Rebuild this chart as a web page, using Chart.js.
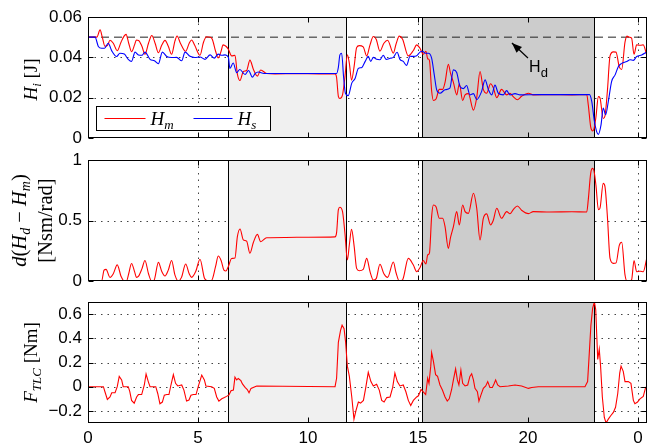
<!DOCTYPE html>
<html><head><meta charset="utf-8">
<script src="https://cdn.jsdelivr.net/npm/chart.js@4/dist/chart.umd.min.js"></script>
<style>
html,body{margin:0;padding:0;background:#fff;}
#wrap{position:relative;width:649px;height:446px;overflow:hidden;}
canvas{position:absolute;left:0;top:0;}
</style></head><body>
<div id="wrap">
<canvas id="c1" width="649" height="446"></canvas>
<canvas id="c2" width="649" height="446"></canvas>
<canvas id="c3" width="649" height="446"></canvas>
</div>
<script>
// ---------- data ----------
const xTickValues = [0, 5, 10, 15, 20, 25];
const xTickLabels = ['0', '5', '10', '15', '20', '0'];
const xMax = 25.41;

const hYTicks = [0, 0.02, 0.04, 0.06];
const hYLabels = ['0', '0.02', '0.04', '0.06'];
const midYTicks = [0, 0.5, 1];
const midYLabels = ['0', '0.5', '1'];
const fYTicks = [-0.2, 0, 0.2, 0.4, 0.6];
const fYLabels = ['\u22120.2', '0', '0.2', '0.4', '0.6'];

const phaseBounds = [6.36, 11.73, 15.18, 23.0];

const hdT = [0, 25.41];
const hdV = [0.05, 0.05];

const hmT = [0,0.4,0.55,0.65,0.77,0.88,1.0,1.15,1.33,1.5,1.64,1.73,1.85,1.98,2.12,2.2,2.3,2.45,2.59,2.75,2.9,3.05,3.2,3.35,3.5,3.65,3.8,3.95,4.05,4.2,4.44,4.6,4.71,4.85,5.09,5.25,5.39,5.55,5.65,5.8,5.92,6.05,6.14,6.27,6.38,6.53,6.68,6.79,6.91,7.06,7.21,7.36,7.52,7.7,7.85,8.12,8.5,9.5,10.5,11.23,
11.3,11.38,11.45,11.57,11.68,11.79,11.88,11.98,12.1,12.21,12.33,12.51,12.67,12.82,12.97,13.1,13.27,13.45,13.62,13.88,14.0,14.15,14.3,14.56,14.79,14.94,15.09,15.24,15.36,15.44,15.52,15.62,15.7,15.82,15.97,16.12,16.23,16.38,16.48,16.61,16.76,16.88,17.03,17.14,17.29,17.52,17.67,17.82,17.97,18.12,18.3,18.42,18.58,18.8,19.03,19.18,19.33,19.52,19.71,20.02,20.24,21.0,22.0,22.67,
22.74,22.85,22.94,23.0,23.09,23.2,23.27,23.42,23.5,23.61,23.73,23.88,24.0,24.15,24.26,24.41,24.5,24.6,24.71,24.82,24.94,25.05,25.12,25.24,25.4];
const hmV = [0.05,0.05,0.0536,0.050,0.0455,0.0458,0.0485,0.047,0.0433,0.0475,0.0505,0.0514,0.047,0.0428,0.0463,0.0486,0.0484,0.0455,0.0415,0.047,0.0508,0.047,0.0423,0.046,0.0484,0.0455,0.0415,0.048,0.0506,0.047,0.043,0.047,0.0486,0.046,0.041,0.0475,0.0502,0.050,0.049,0.043,0.0397,0.043,0.0462,0.0455,0.044,0.0407,0.041,0.0317,0.0285,0.033,0.0335,0.0386,0.034,0.0307,0.0337,0.032,0.0318,0.0319,0.0318,0.0318,
0.0300,0.0207,0.0196,0.0214,0.0303,0.0413,0.037,0.0287,0.0358,0.0448,0.0458,0.0452,0.0407,0.0462,0.0503,0.049,0.0431,0.047,0.0485,0.0421,0.0465,0.0505,0.049,0.0407,0.0434,0.0462,0.0445,0.0415,0.043,0.0393,0.0385,0.0234,0.0186,0.0193,0.0241,0.0241,0.0276,0.0365,0.032,0.0276,0.0214,0.0269,0.0186,0.0214,0.022,0.0138,0.020,0.033,0.0241,0.0222,0.0269,0.025,0.020,0.0241,0.0214,0.0222,0.0205,0.019,0.0207,0.0222,0.0214,0.0215,0.0214,0.0215,
0.0165,0.0055,0.0035,0.0045,0.0105,0.0205,0.020,0.0097,0.011,0.0234,0.0407,0.0427,0.0426,0.0353,0.034,0.0475,0.0505,0.050,0.0495,0.0415,0.0462,0.046,0.046,0.0462,0.041];

const hsT = [0,0.32,0.47,0.62,0.75,0.92,1.08,1.3,1.45,1.65,1.83,1.98,2.14,2.29,2.45,2.59,2.82,3.02,3.2,3.38,3.58,3.8,4.03,4.26,4.41,4.64,4.86,5.09,5.32,5.55,5.74,5.92,6.08,6.23,6.38,6.45,6.6,6.76,6.9,7.14,7.3,7.47,7.6,7.74,8.0,9.0,10.0,11.3,
11.38,11.45,11.53,11.62,11.7,11.83,11.99,12.14,12.29,12.45,12.6,12.74,12.85,12.97,13.12,13.27,13.42,13.55,13.73,13.88,14.05,14.18,14.33,14.48,14.64,14.79,14.94,15.09,15.2,15.35,15.47,15.62,15.74,15.85,16.0,16.23,16.45,16.61,16.76,16.91,17.06,17.21,17.36,17.52,17.67,17.89,18.05,18.2,18.35,18.5,18.65,18.88,19.03,19.18,19.41,19.64,20.5,21.5,22.8,
22.9,23.02,23.12,23.2,23.32,23.42,23.53,23.65,23.8,23.96,24.11,24.26,24.49,24.64,24.79,24.94,25.17,25.4];
const hsV = [0.05,0.05,0.0454,0.0445,0.0445,0.047,0.0432,0.0404,0.042,0.0416,0.039,0.038,0.0426,0.0412,0.041,0.0426,0.039,0.0383,0.0368,0.0426,0.0404,0.0399,0.0400,0.0383,0.0426,0.0405,0.0399,0.0402,0.039,0.0412,0.0396,0.0416,0.041,0.0412,0.040,0.0345,0.0372,0.0324,0.034,0.0315,0.0335,0.0302,0.032,0.0327,0.032,0.032,0.032,0.032,
0.035,0.0412,0.042,0.030,0.0222,0.021,0.0272,0.0295,0.0345,0.035,0.038,0.0405,0.038,0.040,0.039,0.0388,0.041,0.039,0.0395,0.040,0.0425,0.039,0.038,0.036,0.0405,0.0405,0.0408,0.0426,0.043,0.042,0.042,0.0396,0.0313,0.0239,0.0222,0.0239,0.0247,0.0338,0.0325,0.0255,0.0245,0.026,0.0214,0.022,0.019,0.023,0.0288,0.024,0.0214,0.0262,0.0222,0.0214,0.0235,0.0214,0.022,0.0214,0.0215,0.0215,0.0215,
0.018,0.0082,0.0032,0.0018,0.0065,0.0148,0.0115,0.018,0.028,0.0313,0.0355,0.037,0.0379,0.0388,0.0385,0.0404,0.0412,0.0426];

const midT = [0,0.62,0.73,0.82,1.0,1.15,1.33,1.5,1.64,1.75,1.85,1.98,2.12,2.2,2.3,2.45,2.59,2.75,2.89,3.0,3.2,3.35,3.5,3.65,3.8,3.95,4.1,4.25,4.44,4.6,4.71,4.9,5.09,5.3,5.47,5.62,5.8,5.92,6.05,6.18,6.27,6.38,6.53,6.68,6.79,6.91,7.06,7.21,7.36,7.52,7.7,7.85,8.12,9.0,10.0,11.23,
11.3,11.38,11.45,11.57,11.68,11.79,11.88,11.98,12.1,12.21,12.33,12.51,12.67,12.82,12.97,13.1,13.27,13.45,13.62,13.88,14.0,14.15,14.3,14.56,14.79,14.94,15.09,15.24,15.36,15.44,15.52,15.62,15.7,15.82,15.97,16.12,16.23,16.38,16.48,16.61,16.76,16.88,17.03,17.14,17.29,17.52,17.67,17.82,17.97,18.12,18.3,18.42,18.58,18.8,19.03,19.18,19.33,19.52,19.71,20.02,20.24,21.0,22.0,22.67,
22.74,22.85,22.94,23.0,23.09,23.2,23.27,23.42,23.5,23.61,23.73,23.88,24.0,24.15,24.26,24.41,24.5,24.6,24.71,24.82,24.94,25.05,25.12,25.24,25.39];
const midV = [0,0,0.09,0.096,0.03,0.06,0.133,0.04,0.0,0.0,0.06,0.145,0.075,0.03,0.04,0.1,0.17,0.06,0.0,0.005,0.154,0.08,0.041,0.09,0.17,0.05,0.0,0.03,0.14,0.06,0.03,0.08,0.18,0.02,0.0,0.005,0.12,0.206,0.17,0.09,0.083,0.12,0.186,0.19,0.366,0.43,0.34,0.33,0.229,0.32,0.385,0.325,0.358,0.36,0.362,0.365,
0.40,0.587,0.609,0.573,0.394,0.174,0.30,0.427,0.284,0.104,0.085,0.096,0.187,0.077,0.008,0.02,0.138,0.06,0.03,0.157,0.07,0.0,0.01,0.187,0.132,0.077,0.11,0.17,0.14,0.215,0.23,0.532,0.628,0.614,0.518,0.518,0.449,0.27,0.36,0.449,0.573,0.463,0.628,0.573,0.559,0.725,0.601,0.339,0.518,0.555,0.463,0.50,0.601,0.518,0.573,0.556,0.59,0.62,0.585,0.557,0.573,0.570,0.572,0.570,
0.67,0.89,0.931,0.91,0.79,0.59,0.60,0.807,0.78,0.532,0.187,0.146,0.148,0.295,0.32,0.05,0.0,0.0,0.01,0.17,0.077,0.08,0.08,0.077,0.18];

const fT = [0,0.7,0.77,0.88,1.0,1.08,1.23,1.33,1.42,1.53,1.6,1.83,1.9,1.98,2.1,2.21,2.29,2.44,2.56,2.64,2.74,2.82,3.08,3.17,3.27,3.38,3.47,3.58,3.68,3.77,3.88,3.98,4.08,4.26,4.36,4.48,4.59,4.68,4.79,4.91,5.02,5.17,5.29,5.36,5.62,5.74,5.85,5.95,6.08,6.2,6.3,6.41,6.5,6.61,6.68,6.76,6.83,6.95,7.02,7.14,7.24,7.32,7.41,7.59,7.67,11.23,
11.3,11.38,11.48,11.55,11.64,11.71,11.79,11.88,11.99,12.09,12.18,12.29,12.39,12.52,12.62,12.74,12.86,12.97,13.12,13.24,13.35,13.46,13.58,13.73,13.85,13.95,14.06,14.18,14.33,14.45,14.56,14.67,14.79,14.94,15.02,15.14,15.24,15.35,15.44,15.5,15.58,15.62,15.7,15.8,15.89,16.0,16.11,16.23,16.33,16.42,16.53,16.61,16.71,16.79,16.86,16.95,17.03,17.14,17.26,17.36,17.44,17.52,17.59,17.7,17.77,17.86,17.97,18.08,18.17,18.27,18.38,18.47,18.53,18.62,18.73,19.11,19.41,19.71,20.02,20.17,20.47,22.59,
22.71,22.77,22.86,22.94,23.02,23.08,23.12,23.17,23.24,23.3,23.38,23.47,23.55,23.65,23.76,23.88,23.98,24.08,24.17,24.23,24.33,24.41,24.56,24.68,24.79,24.86,24.98,25.09,25.24,25.35,25.41];
const fV = [0,0,-0.042,-0.105,-0.085,-0.05,-0.05,0,0.085,0.056,0,0,-0.04,-0.113,-0.136,-0.085,-0.065,-0.065,0.014,0.105,0.042,0,0,-0.056,-0.141,-0.127,-0.07,-0.065,-0.065,0.014,0.1,0.028,0.006,0.014,-0.028,-0.119,-0.11,-0.07,-0.065,-0.065,0.006,0.096,0.056,0.006,0,-0.014,-0.085,-0.119,-0.1,-0.09,-0.08,-0.068,-0.034,-0.028,0.079,0.056,0.068,0.05,0.023,-0.006,-0.023,-0.05,-0.014,0,0.006,0,
0.07,0.367,0.466,0.508,0.48,0.367,0.17,0.085,-0.085,-0.268,-0.198,-0.127,-0.135,-0.113,-0.014,0.119,0.042,0.006,0.02,-0.028,-0.113,-0.127,-0.09,-0.085,-0.006,0.113,0.042,0.006,0.014,-0.042,-0.113,-0.155,-0.113,-0.085,-0.075,-0.023,-0.042,-0.065,0.07,0.028,0.17,0.282,0.212,0.1,0.085,0.014,-0.028,-0.085,-0.119,-0.1,-0.023,0.056,0.147,0.056,0.014,0.136,0.028,0.006,0.014,0.085,0.107,0.056,-0.014,-0.042,-0.119,-0.07,-0.014,0.006,0.042,-0.006,-0.006,0.028,0.056,0.014,0,0.006,0.014,0.006,-0.014,-0.006,0,0,
0.042,0.226,0.508,0.65,0.70,0.636,0.452,0.226,0.31,0.17,-0.085,-0.254,-0.30,-0.268,-0.24,-0.212,-0.17,-0.056,0.113,0.17,0.127,0.042,0.042,0.028,-0.113,-0.141,-0.127,-0.1,-0.08,-0.006,0];

// ---------- rendering ----------
const SERIF = "'Liberation Serif','DejaVu Serif',serif";
const SANS = "'Liberation Sans','DejaVu Sans',sans-serif";
const IT = 'italic 19px ' + SERIF, RM = '19px ' + SERIF, SUB = 'italic 13px ' + SERIF;
const IT2 = 'italic 20.5px ' + SERIF, RM2 = '20.5px ' + SERIF, SUB2 = 'italic 14px ' + SERIF;
const pts = (T, V) => T.map((t, i) => ({x: t, y: V[i]}));

function drawRuns(ctx, runs, x, y) {
  let w = 0;
  runs.forEach(r => { ctx.font = r.f; r.w = ctx.measureText(r.t).width; w += r.w; });
  let cx = x - w / 2;
  ctx.textAlign = 'left'; ctx.textBaseline = 'alphabetic'; ctx.fillStyle = '#000';
  runs.forEach(r => { ctx.font = r.f; ctx.fillText(r.t, cx, y + (r.dy || 0)); cx += r.w; });
}
function drawRunsLeft(ctx, runs, x, y) {
  let cx = x;
  ctx.textAlign = 'left'; ctx.textBaseline = 'alphabetic'; ctx.fillStyle = '#000';
  runs.forEach(r => { ctx.font = r.f; ctx.fillText(r.t, cx, y + (r.dy || 0)); cx += ctx.measureText(r.t).width; });
}
function hline(ctx, x0, x1, y) { ctx.beginPath(); ctx.moveTo(x0, y); ctx.lineTo(x1, y); ctx.stroke(); }
function vline(ctx, x, y0, y1) { ctx.beginPath(); ctx.moveTo(x, y0); ctx.lineTo(x, y1); ctx.stroke(); }

function decor(opt) {
  return {
    id: 'decor',
    beforeDatasetsDraw(chart) {
      const {ctx, chartArea: a, scales: {x, y}} = chart;
      ctx.save();
      ctx.beginPath(); ctx.rect(a.left, a.top, a.right - a.left, a.bottom - a.top); ctx.clip();
      ctx.strokeStyle = '#444'; ctx.lineWidth = 1; ctx.setLineDash([1.5, 5]);
      xTickValues.forEach(v => { const p = Math.round(x.getPixelForValue(v)) + 0.5; if (p > a.left + 2 && p < a.right - 2) vline(ctx, p, a.top, a.bottom); });
      opt.yTicks.forEach(v => { const p = Math.round(y.getPixelForValue(v)) + 0.5; if (p > a.top + 2 && p < a.bottom - 2) hline(ctx, a.left, a.right, p); });
      ctx.setLineDash([]);
      const shades = [[0, 1, '#f0f0f0'], [2, 3, '#cccccc']];
      shades.forEach(([i, j, c]) => {
        const x0 = x.getPixelForValue(phaseBounds[i]), x1 = x.getPixelForValue(phaseBounds[j]);
        ctx.fillStyle = c; ctx.fillRect(x0, a.top, x1 - x0, a.bottom - a.top);
      });
      ctx.strokeStyle = '#000';
      phaseBounds.forEach(v => { const p = Math.round(x.getPixelForValue(v)) + 0.5; vline(ctx, p, a.top, a.bottom); });
      ctx.restore();
    },
    afterDatasetsDraw(chart) {
      const {ctx, chartArea: a, scales: {x, y}} = chart;
      ctx.save();
      ctx.strokeStyle = '#000'; ctx.lineWidth = 1;
      const L = Math.round(a.left) + 0.5, R = Math.round(a.right) - 0.5, T = Math.round(a.top) + 0.5, B = Math.round(a.bottom) - 0.5;
      ctx.strokeRect(L, T, R - L, B - T);
      xTickValues.forEach(v => { const p = Math.round(x.getPixelForValue(v)) + 0.5; vline(ctx, p, B, B - 5); vline(ctx, p, T, T + 5); });
      opt.yTicks.forEach(v => { const p = Math.round(y.getPixelForValue(v)) + 0.5; hline(ctx, L, L + 5, p); hline(ctx, R, R - 5, p); });
      if (opt.extras) opt.extras(chart);
      ctx.restore();
    },
    afterDraw(chart) {
      const {ctx, chartArea: a} = chart;
      const cy = (a.top + a.bottom) / 2 + (opt.titleDy || 0);
      opt.titles.forEach(tl => {
        ctx.save();
        ctx.translate(tl.bx, cy);
        ctx.rotate(-Math.PI / 2);
        drawRuns(ctx, tl.runs, 0, 0);
        ctx.restore();
      });
    }
  };
}

function panel(id, opt) {
  return new Chart(document.getElementById(id), {
    type: 'line',
    data: {datasets: opt.datasets},
    options: {
      responsive: false, animation: false, devicePixelRatio: 1,
      layout: {padding: {left: 0, right: 2, top: opt.top, bottom: opt.bottom}},
      plugins: {legend: {display: false}, tooltip: {enabled: false}},
      elements: {point: {radius: 0}, line: {borderWidth: 1.1, cubicInterpolationMode: 'monotone'}},
      scales: {
        x: {
          type: 'linear', min: 0, max: xMax, display: opt.showX,
          afterFit: s => { s.height = opt.xh; },
          afterBuildTicks: s => { s.ticks = xTickValues.map(v => ({value: v})); },
          grid: {display: false, drawTicks: false}, border: {display: false},
          ticks: {padding: 5, color: '#000', font: {family: SANS, size: 17}, maxRotation: 0, autoSkip: false,
                  callback: (v, i) => xTickLabels[i]}
        },
        y: {
          type: 'linear', min: opt.ymin, max: opt.ymax,
          afterFit: s => { s.width = 88; },
          afterBuildTicks: s => { s.ticks = opt.yTicks.map(v => ({value: v})); },
          grid: {display: false, drawTicks: false}, border: {display: false},
          ticks: {padding: 6, color: '#000', font: {family: SANS, size: 17}, autoSkip: false,
                  callback: (v, i) => opt.yLabels[i]}
        }
      }
    },
    plugins: [decor(opt)]
  });
}

// top panel
panel('c1', {
  top: 17, bottom: 446 - 138, xh: 0, showX: false, ymin: 0, ymax: 0.06,
  yTicks: hYTicks, yLabels: hYLabels, titleDy: 2,
  titles: [{bx: 37, runs: [{t: 'H', f: IT}, {t: 'i', f: SUB, dy: 4}, {t: ' [J]', f: RM}]}],
  datasets: [
    {data: pts(hsT, hsV), borderColor: '#0000ff'},
    {data: pts(hmT, hmV), borderColor: '#ff0000'},
    {data: pts(hdT, hdV), borderColor: '#222', borderWidth: 1, borderDash: [8, 5]}
  ],
  extras(chart) {
    const {ctx, chartArea: a, scales: {x, y}} = chart;
    const bx = Math.round(a.left) + 8.5, by = Math.round(a.bottom) - 31.5;
    ctx.fillStyle = '#fff'; ctx.fillRect(bx, by, 174, 24);
    ctx.strokeStyle = '#000'; ctx.lineWidth = 1; ctx.strokeRect(bx, by, 174, 24);
    ctx.lineWidth = 1.1;
    ctx.strokeStyle = '#ff0000'; hline(ctx, bx + 8, bx + 49, by + 12);
    ctx.strokeStyle = '#0000ff'; hline(ctx, bx + 97, bx + 136, by + 12);
    drawRunsLeft(ctx, [{t: 'H', f: IT}, {t: 'm', f: SUB, dy: 4}], bx + 54, by + 18);
    drawRunsLeft(ctx, [{t: 'H', f: IT}, {t: 's', f: SUB, dy: 4}], bx + 141, by + 18);
    const tx = x.getPixelForValue(19.27), ty = y.getPixelForValue(0.0471);
    const sx = x.getPixelForValue(20.0), sy = y.getPixelForValue(0.0397);
    ctx.strokeStyle = '#000'; ctx.lineWidth = 1.2;
    ctx.beginPath(); ctx.moveTo(sx, sy); ctx.lineTo(tx, ty); ctx.stroke();
    const ang = Math.atan2(ty - sy, tx - sx);
    ctx.fillStyle = '#000'; ctx.beginPath();
    ctx.moveTo(tx, ty);
    ctx.lineTo(tx - 10 * Math.cos(ang) + 4 * Math.sin(ang), ty - 10 * Math.sin(ang) - 4 * Math.cos(ang));
    ctx.lineTo(tx - 10 * Math.cos(ang) - 4 * Math.sin(ang), ty - 10 * Math.sin(ang) + 4 * Math.cos(ang));
    ctx.closePath(); ctx.fill();
    const lx = x.getPixelForValue(20.05), ly = y.getPixelForValue(0.0327);
    drawRunsLeft(ctx, [{t: 'H', f: '16px ' + SANS}, {t: 'd', f: '13px ' + SANS, dy: 5}], lx, ly);
  }
});

// middle panel
panel('c2', {
  top: 160, bottom: 446 - 281, xh: 0, showX: false, ymin: 0, ymax: 1,
  yTicks: midYTicks, yLabels: midYLabels, titleDy: 0,
  titles: [
    {bx: 26, runs: [{t: 'd', f: IT2}, {t: '(', f: RM2}, {t: 'H', f: IT2}, {t: 'd', f: SUB2, dy: 4}, {t: ' \u2212 ', f: RM2}, {t: 'H', f: IT2}, {t: 'm', f: SUB2, dy: 4}, {t: ')', f: RM2}]},
    {bx: 52, runs: [{t: '[Nsm/rad]', f: RM2}]}
  ],
  datasets: [{data: pts(midT, midV), borderColor: '#ff0000'}]
});

// bottom panel
panel('c3', {
  top: 302, bottom: 0, xh: 23, showX: true, ymin: -0.3, ymax: 0.7,
  yTicks: fYTicks, yLabels: fYLabels, titleDy: 0,
  titles: [{bx: 37, runs: [{t: 'F', f: IT}, {t: 'TLC', f: SUB, dy: 4}, {t: ' [Nm]', f: RM}]}],
  datasets: [{data: pts(fT, fV), borderColor: '#ff0000', cubicInterpolationMode: 'default', tension: 0}]
});
</script>
</body></html>
